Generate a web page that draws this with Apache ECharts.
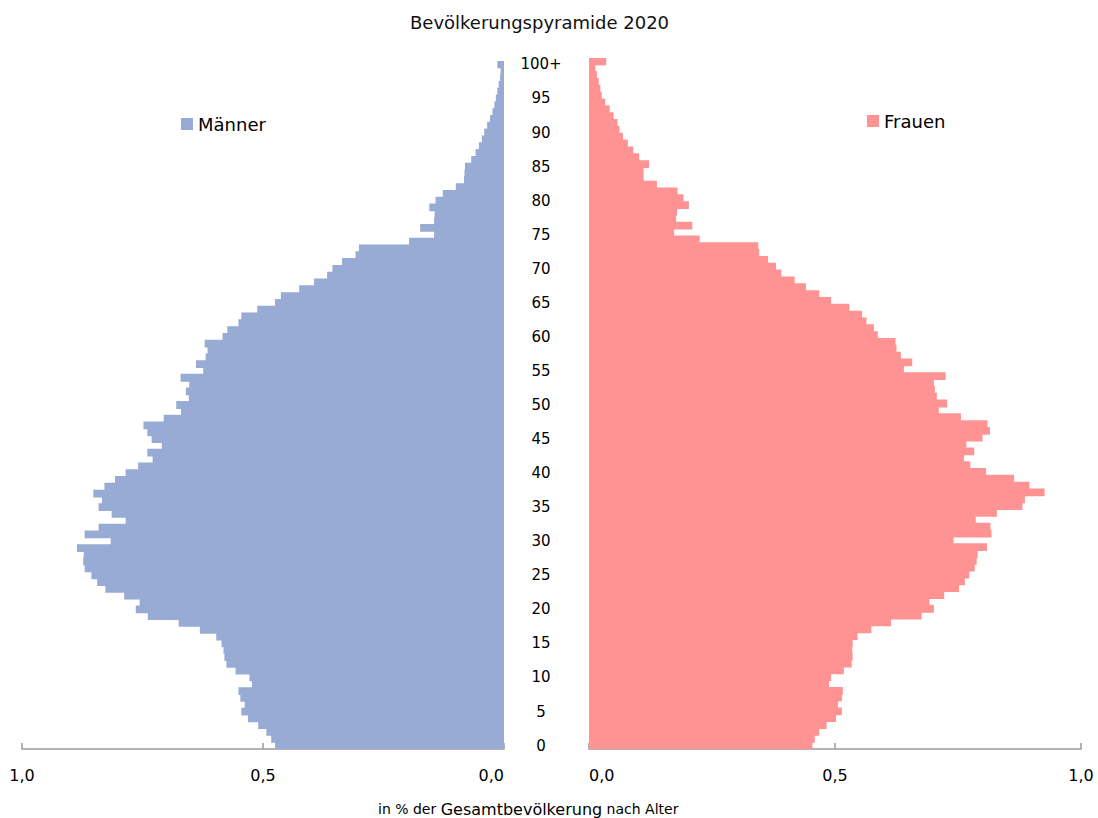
<!DOCTYPE html>
<html>
<head>
<meta charset="utf-8">
<script src="https://cdn.jsdelivr.net/npm/echarts@6/dist/echarts.min.js"></script>
<style>html,body{margin:0;padding:0;background:#fff}#c{width:1098px;height:818px}</style>
</head>
<body>
<div id="c"></div>
<script>
// Age categories 0..100+
var ages = [];
for (var a = 0; a <= 100; a++) { ages.push(a === 100 ? '100+' : String(a)); }

// Percent of total population, index = age (0 .. 100+)
var maleValues = [
  0.475,0.483,0.493,0.510,0.531,0.545,0.538,0.547,0.551,0.523,
  0.528,0.557,0.576,0.580,0.582,0.586,0.597,0.631,0.675,0.739,
  0.764,0.756,0.788,0.827,0.844,0.856,0.870,0.873,0.872,0.886,
  0.816,0.870,0.841,0.785,0.814,0.841,0.834,0.852,0.829,0.807,
  0.785,0.759,0.729,0.740,0.710,0.731,0.740,0.748,0.706,0.670,
  0.680,0.654,0.660,0.653,0.671,0.624,0.639,0.619,0.615,0.621,
  0.584,0.574,0.551,0.545,0.512,0.475,0.463,0.425,0.394,0.367,
  0.356,0.336,0.308,0.301,0.197,0.145,0.174,0.145,0.144,0.155,
  0.142,0.127,0.100,0.083,0.082,0.081,0.068,0.059,0.052,0.046,
  0.041,0.035,0.029,0.024,0.020,0.017,0.014,0.011,0.008,0.007,
  0.014
];
var femaleValues = [
  0.454,0.459,0.468,0.483,0.502,0.514,0.506,0.514,0.516,0.488,
  0.492,0.518,0.534,0.536,0.535,0.536,0.546,0.574,0.614,0.676,
  0.701,0.692,0.722,0.752,0.764,0.773,0.784,0.788,0.790,0.809,
  0.741,0.818,0.816,0.786,0.829,0.881,0.886,0.926,0.895,0.864,
  0.807,0.775,0.762,0.783,0.767,0.800,0.815,0.810,0.756,0.711,
  0.728,0.707,0.703,0.701,0.725,0.640,0.657,0.634,0.625,0.623,
  0.587,0.579,0.564,0.555,0.529,0.492,0.468,0.441,0.418,0.391,
  0.380,0.364,0.346,0.344,0.225,0.173,0.210,0.177,0.179,0.203,
  0.192,0.180,0.138,0.111,0.111,0.122,0.102,0.090,0.079,0.069,
  0.062,0.058,0.050,0.042,0.033,0.026,0.023,0.020,0.016,0.013,
  0.035
];
var seriesNames = ['Männer', 'Frauen'];
var titleText = 'Bevölkerungspyramide 2020';
var maleColor = '#98abd5';
var femaleColor = '#ff9393';

var fmt = function (v) { return v.toFixed(1).replace('.', ','); };
var axisCommon = {
  type: 'value', min: 0, max: 1, interval: 0.5,
  splitLine: { show: false },
  axisLine: { show: true, lineStyle: { color: '#9a9a9a', width: 1.5 } },
  axisTick: { show: true, inside: true, length: 6, lineStyle: { color: '#9a9a9a', width: 1.5 } },
  axisLabel: { formatter: fmt, fontSize: 16, color: '#000', margin: 18 }
};

var chart = echarts.init(document.getElementById('c'), null, { renderer: 'svg' });
chart.setOption({
  animation: false,
  textStyle: { fontFamily: 'DejaVu Sans' },
  title: [
    { text: titleText, left: 405, top: 8, textStyle: { fontSize: 18, fontWeight: 'normal', color: '#111' } },
    { text: '{s|in % der }{b|Gesamtbevölkerung}{s| nach Alter}', left: 373, top: 796,
      textStyle: { fontWeight: 'normal',
        rich: { s: { fontSize: 14, color: '#000', fontWeight: 'normal' },
                b: { fontSize: 16, color: '#000', fontWeight: 'normal' } } } }
  ],
  legend: [
    { data: [seriesNames[0]], left: 181, top: 115, padding: 0, icon: 'rect', itemWidth: 12, itemHeight: 12,
      textStyle: { fontSize: 18, color: '#000' } },
    { data: [seriesNames[1]], left: 867, top: 112, padding: 0, icon: 'rect', itemWidth: 12, itemHeight: 12,
      textStyle: { fontSize: 18, color: '#000' } }
  ],
  grid: [
    { left: 22, width: 482, top: 61, height: 688 },
    { left: 589, width: 492, top: 58, height: 691 }
  ],
  xAxis: [
    Object.assign({}, axisCommon, { gridIndex: 0, inverse: true,
      axisLabel: Object.assign({}, axisCommon.axisLabel, { alignMinLabel: 'right' }) }),
    Object.assign({}, axisCommon, { gridIndex: 1,
      axisLabel: Object.assign({}, axisCommon.axisLabel, { alignMinLabel: 'left' }) })
  ],
  yAxis: [
    { type: 'category', gridIndex: 0, data: ages, position: 'right',
      axisLine: { show: false }, axisTick: { show: false },
      axisLabel: { interval: 4, align: 'center', margin: 37, fontSize: 15, color: '#000' } },
    { type: 'category', gridIndex: 1, data: ages,
      axisLine: { show: false }, axisTick: { show: false }, axisLabel: { show: false } }
  ],
  series: [
    { name: seriesNames[0], type: 'bar', xAxisIndex: 0, yAxisIndex: 0, data: maleValues,
      barWidth: '114%', itemStyle: { color: maleColor } },
    { name: seriesNames[1], type: 'bar', xAxisIndex: 1, yAxisIndex: 1, data: femaleValues,
      barWidth: '114%', itemStyle: { color: femaleColor } }
  ]
});
</script>
</body>
</html>
